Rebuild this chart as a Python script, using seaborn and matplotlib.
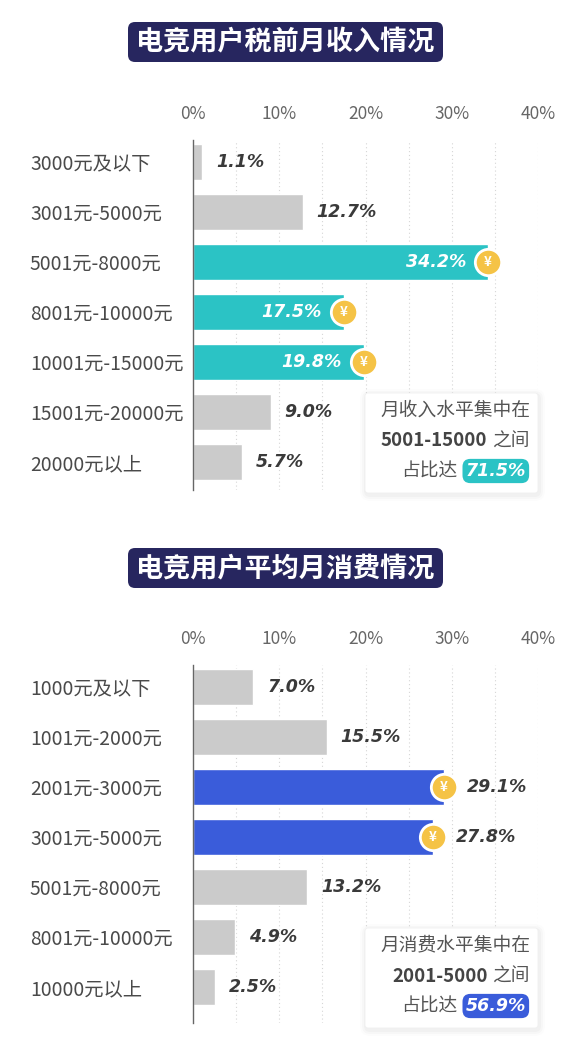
import numpy as np
import pandas as pd
import seaborn as sns
import matplotlib
matplotlib.use("Agg")
import matplotlib.pyplot as plt
from matplotlib.patches import FancyBboxPatch
from matplotlib import transforms

# ---------------- data ----------------
income_title = "电竞用户税前月收入情况"
income_cats = ["3000元及以下", "3001元-5000元", "5001元-8000元", "8001元-10000元",
               "10001元-15000元", "15001元-20000元", "20000元以上"]
income_vals = [1.1, 12.7, 34.2, 17.5, 19.8, 9.0, 5.7]
income_highlight = [False, False, True, True, True, False, False]
income_note = ["月收入水平集中在", "5001-15000", "之间", "占比达", "71.5%"]

spend_title = "电竞用户平均月消费情况"
spend_cats = ["1000元及以下", "1001元-2000元", "2001元-3000元", "3001元-5000元",
              "5001元-8000元", "8001元-10000元", "10000元以上"]
spend_vals = [7.0, 15.5, 29.1, 27.8, 13.2, 4.9, 2.5]
spend_highlight = [False, False, True, True, False, False, False]
spend_note = ["月消费水平集中在", "2001-5000", "之间", "占比达", "56.9%"]

x_ticks = [0, 10, 20, 30, 40]
x_tick_labels = ["0%", "10%", "20%", "30%", "40%"]

# ---------------- style ----------------
W, H = 572, 1049
sns.set_theme(style="white")
plt.rcParams["font.family"] = ["Noto Sans CJK SC", "DejaVu Sans"]

TEAL = "#2BC3C5"
BLUE = "#3A5CDA"
GRAY = "#CBCBCB"
NAVY = "#27265F"
COIN = "#F5C346"
VFONT = dict(family="DejaVu Sans", fontweight="bold", fontstyle="oblique")

fig = plt.figure(figsize=(W / 100, H / 100), dpi=100)
fig.patch.set_facecolor("white")
DISP = transforms.IdentityTransform()


def fx(x):
    return x / W


def fy(y):
    return 1 - y / H


def rbox(x0, y0, x1, y1, r, **kw):
    """rounded box given in image pixel coords (y downwards)."""
    p = FancyBboxPatch((x0, H - y1), x1 - x0, y1 - y0,
                       boxstyle=f"round,pad=0,rounding_size={r}",
                       transform=DISP, **kw)
    fig.add_artist(p)
    return p


def draw_title(text, y_top):
    rbox(128, y_top, 443, y_top + 40, 7, fc=NAVY, ec="none")
    fig.text(fx(285.5), fy(y_top + 20), text, ha="center", va="center",
             color="white", fontsize=19.5, fontweight="bold")


def draw_note(lines, x0, y0, x1, y1, hl_color):
    for d, a in [(6, 0.012), (4, 0.018), (2, 0.025)]:
        rbox(x0 - d + 1, y0 - d + 2, x1 + d + 1, y1 + d + 2, 4 + d, fc="black",
             ec="none", alpha=a)
    rbox(x0, y0, x1, y1, 3, fc="white", ec="#f0f0f0", lw=0.6)
    r = fig.canvas.get_renderer()
    xr = x1 - 8
    fs = 13.5
    ly = [y0 + 17, y0 + 48, y0 + 78]
    fig.text(fx(xr), fy(ly[0]), lines[0], ha="right", va="center",
             fontsize=fs, color="#555555")
    t = fig.text(fx(xr), fy(ly[1]), lines[2], ha="right", va="center",
                 fontsize=fs, color="#555555")
    w = t.get_window_extent(r).width
    fig.text(fx(xr - w - 5), fy(ly[1]), lines[1], ha="right", va="center",
             fontsize=fs, color="#444444", fontweight="bold")
    t3 = fig.text(fx(xr - 4), fy(ly[2]), lines[4], ha="right", va="center",
                  fontsize=12.5, color="white", **VFONT,
                  bbox=dict(boxstyle="round,pad=0.18,rounding_size=0.45",
                            fc=hl_color, ec="none"))
    w3 = t3.get_window_extent(r).width
    fig.text(fx(xr - 4 - w3 - 8), fy(ly[2]), lines[3], ha="right", va="center",
             fontsize=fs, color="#555555")


def draw_panel(row0, cats, vals, hl, color, mode, bottom_pad):
    top = row0 - 22
    bottom = row0 + 6 * 50 + bottom_pad
    ax = fig.add_axes([fx(193), fy(bottom), (538 - 193) / W, (bottom - top) / H])
    df = pd.DataFrame({"cat": cats, "val": vals})
    palette = [color if h else GRAY for h in hl]
    sns.barplot(data=df, x="val", y="cat", hue="cat", palette=palette,
                legend=False, width=0.72, saturation=1, orient="h", ax=ax,
                zorder=2)
    ax.set_xlim(0, 40)
    ax.set_ylim(6 + bottom_pad / 50, -22 / 50)
    for g in np.arange(5, 41, 5):
        ax.axvline(g, color="#d6d6d6", lw=0.8, ls=(0, (1, 2.5)), zorder=0)
    ax.set_xticks(x_ticks)
    ax.set_xticklabels(x_tick_labels)
    ax.xaxis.tick_top()
    ax.tick_params(axis="x", length=0, pad=12, labelsize=12.5, labelcolor="#666666")
    ax.tick_params(axis="y", length=0, pad=163 * 0.72, labelsize=13.9, labelcolor="#4a4a4a")
    for lab in ax.get_yticklabels():
        lab.set_ha("left")
    ax.set_xlabel("")
    ax.set_ylabel("")
    for s in ["top", "right", "bottom"]:
        ax.spines[s].set_visible(False)
    ax.spines["left"].set_color("#666666")
    ax.spines["left"].set_linewidth(1.0)
    ax.patch.set_alpha(0)

    for i, (v, h) in enumerate(zip(vals, hl)):
        label = f"{v:.1f}%"
        if h:
            ax.scatter([v], [i], s=360, color=COIN, edgecolors="white",
                       linewidths=2, zorder=5, clip_on=False)
            ax.text(v, i, "¥", ha="center", va="center", color="white",
                    fontsize=9.5, fontweight="bold", zorder=6)
            if mode == "inside":
                ax.annotate(label, (v, i), xytext=(-22, 0), textcoords="offset pixels",
                            ha="right", va="center", color="white", zorder=6,
                            fontsize=12.5, **VFONT)
            else:
                ax.annotate(label, (v, i), xytext=(23, 0), textcoords="offset pixels",
                            ha="left", va="center", color="#3a3a3a", zorder=6,
                            fontsize=12.5, **VFONT)
        else:
            ax.annotate(label, (v, i), xytext=(14, 0), textcoords="offset pixels",
                        ha="left", va="center", color="#3a3a3a", zorder=6,
                        fontsize=12.5, **VFONT)
    return ax


draw_title(income_title, 22)
draw_panel(162, income_cats, income_vals, income_highlight, TEAL, "inside", 28)
draw_note(income_note, 365, 393, 538, 493, TEAL)

draw_title(spend_title, 548)
draw_panel(687, spend_cats, spend_vals, spend_highlight, BLUE, "outside", 36)
draw_note(spend_note, 365, 928, 538, 1028, BLUE)

fig.savefig("out.png", dpi=100, facecolor="white")
